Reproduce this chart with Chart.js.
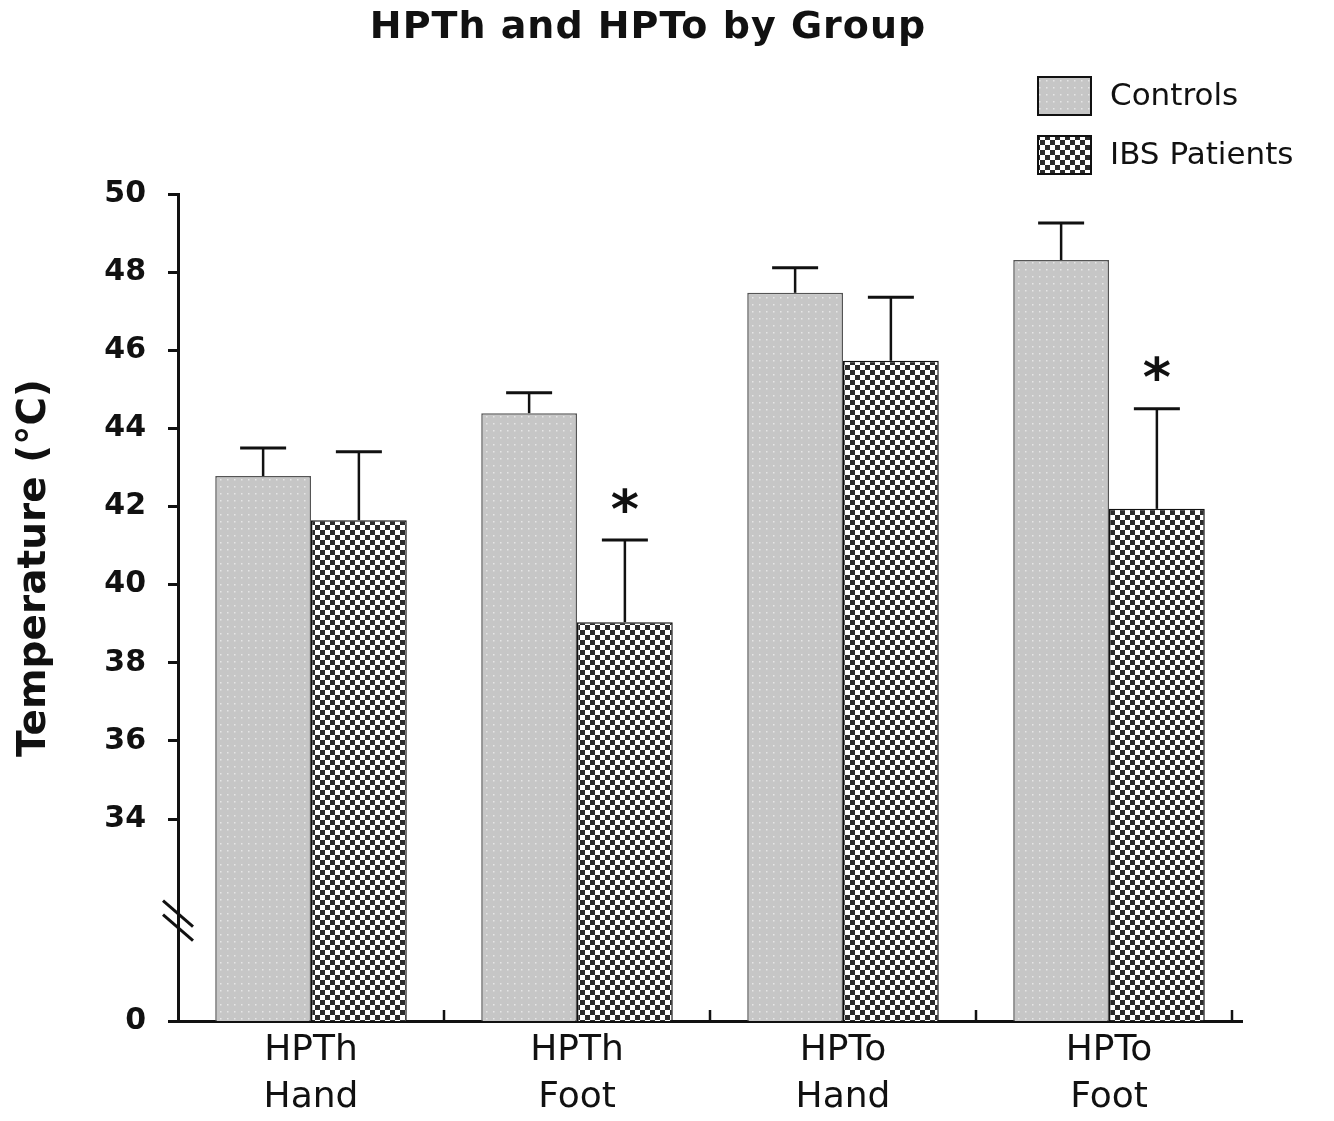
<!DOCTYPE html>
<html>
<head>
<meta charset="utf-8">
<script src="https://cdn.jsdelivr.net/npm/chart.js@4/dist/chart.umd.min.js"></script>
<style>
  html, body { margin: 0; padding: 0; background: #fff; }
  #wrap { width: 1334px; height: 1121px; }
</style>
</head>
<body>
<div id="wrap"><canvas id="chart"></canvas></div>
<script>
// datos
const categories = [['HPTh', 'Hand'], ['HPTh', 'Foot'], ['HPTo', 'Hand'], ['HPTo', 'Foot']];
const controlsMean = [42.78, 44.39, 47.47, 48.31];
const controlsErr = [0.72, 0.52, 0.64, 0.95];
const ibsMean = [41.65, 39.04, 45.73, 41.94];
const ibsErr = [1.75, 2.10, 1.63, 2.56];
const ibsSig = [false, true, false, true];
const yTickValues = [34, 36, 38, 40, 42, 44, 46, 48, 50];
const axisBottom = 28.83;   // eje cortado: este valor se rotula "0"
const breakAt = 31.4;       // donde va la marca "//"

const FONT = '"DejaVu Sans", sans-serif';

// patrones de relleno
function dotPattern() {
    const c = document.createElement('canvas');
    c.width = 7; c.height = 7;
    const g = c.getContext('2d');
    g.fillStyle = '#c6c6c6';
    g.fillRect(0, 0, 7, 7);
    g.fillStyle = '#e6e6e6';
    g.fillRect(3, 3, 1.5, 1.5);
    return g.createPattern(c, 'repeat');
}

function checkerPattern() {
    const c = document.createElement('canvas');
    c.width = 10; c.height = 10;
    const g = c.getContext('2d');
    g.fillStyle = '#ffffff';
    g.fillRect(0, 0, 10, 10);
    g.fillStyle = '#2b2b2b';
    g.fillRect(0, 0, 5, 5);
    g.fillRect(5, 5, 5, 5);
    return g.createPattern(c, 'repeat');
}

const controlsFill = dotPattern();
const ibsFill = checkerPattern();

// barras de error, asteriscos, corte del eje, marcas del eje x
const extrasPlugin = {
    id: 'extras',
    afterDatasetsDraw(chart) {
        const ctx = chart.ctx;
        const y = chart.scales.y;
        const errs = [controlsErr, ibsErr];
        ctx.save();
        chart.data.datasets.forEach((ds, i) => {
            const meta = chart.getDatasetMeta(i);
            meta.data.forEach((bar, j) => {
                const top = y.getPixelForValue(ds.data[j] + errs[i][j]);
                ctx.strokeStyle = '#111';
                ctx.lineWidth = 2.5;
                ctx.beginPath();
                ctx.moveTo(bar.x, bar.y);
                ctx.lineTo(bar.x, top);
                ctx.stroke();
                ctx.lineWidth = 3;
                ctx.beginPath();
                ctx.moveTo(bar.x - 23, top);
                ctx.lineTo(bar.x + 23, top);
                ctx.stroke();
                if (i === 1 && ibsSig[j]) {
                    ctx.fillStyle = '#111';
                    ctx.font = 'bold 54px ' + FONT;
                    ctx.textAlign = 'center';
                    ctx.textBaseline = 'alphabetic';
                    const m = ctx.measureText('*');
                    const cy = top - 40;
                    ctx.fillText('*', bar.x, cy + (m.actualBoundingBoxAscent - m.actualBoundingBoxDescent) / 2);
                }
            });
        });
        ctx.restore();
    },
    afterDraw(chart) {
        const ctx = chart.ctx;
        const area = chart.chartArea;
        const y = chart.scales.y;
        ctx.save();

        // marcas hacia dentro en el eje x
        ctx.strokeStyle = '#111';
        ctx.lineWidth = 2.5;
        const w = (area.right - area.left) / categories.length;
        for (let k = 1; k <= categories.length; k++) {
            const x = area.left + k * w - (k === categories.length ? 10 : 0);
            ctx.beginPath();
            ctx.moveTo(x, area.bottom);
            ctx.lineTo(x, area.bottom - 11);
            ctx.stroke();
        }

        // corte del eje y
        const by = y.getPixelForValue(breakAt);
        ctx.lineWidth = 3;
        [-7, 7].forEach(d => {
            ctx.beginPath();
            ctx.moveTo(area.left - 15, by + d - 13);
            ctx.lineTo(area.left + 15, by + d + 13);
            ctx.stroke();
        });

        // título
        ctx.fillStyle = '#111';
        ctx.font = 'bold 38px ' + FONT;
        ctx.textAlign = 'center';
        ctx.textBaseline = 'middle';
        ctx.letterSpacing = '1px';
        ctx.fillText('HPTh and HPTo by Group', 648, 28);
        ctx.letterSpacing = '0px';

        // título del eje y
        ctx.save();
        ctx.translate(35, 568);
        ctx.rotate(-Math.PI / 2);
        ctx.font = 'bold 39px ' + FONT;
        ctx.fillText('Temperature (\u00B0C)', 0, 0);
        ctx.restore();

        // leyenda
        const items = [['Controls', controlsFill, 77], ['IBS Patients', ibsFill, 136]];
        items.forEach(([label, fill, top]) => {
            ctx.fillStyle = fill;
            ctx.fillRect(1038, top, 53, 38);
            ctx.strokeStyle = '#111';
            ctx.lineWidth = 2;
            ctx.strokeRect(1038, top, 53, 38);
            ctx.fillStyle = '#111';
            ctx.font = '31px ' + FONT;
            ctx.textAlign = 'left';
            ctx.fillText(label, 1110, top + 20);
        });
        ctx.restore();
    }
};

new Chart(document.getElementById('chart'), {
    type: 'bar',
    data: {
        labels: categories,
        datasets: [
            {
                label: 'Controls',
                data: controlsMean,
                backgroundColor: controlsFill,
                borderColor: '#555',
                borderWidth: 1.5,
                categoryPercentage: 0.72,
                barPercentage: 1.0
            },
            {
                label: 'IBS Patients',
                data: ibsMean,
                backgroundColor: ibsFill,
                borderColor: '#111',
                borderWidth: 1.5,
                categoryPercentage: 0.72,
                barPercentage: 1.0
            }
        ]
    },
    options: {
        responsive: true,
        maintainAspectRatio: false,
        animation: false,
        layout: { padding: { top: 194, right: 92, bottom: 0, left: 0 } },
        plugins: {
            legend: { display: false },
            title: { display: false },
            tooltip: { enabled: false }
        },
        scales: {
            x: {
                grid: { display: true, drawOnChartArea: false, drawTicks: false },
                border: { display: true, color: '#111', width: 3 },
                ticks: {
                    color: '#111',
                    padding: 6,
                    font: { family: FONT, size: 36, lineHeight: 1.3 },
                    maxRotation: 0
                },
                afterFit(scale) { scale.height = 100; }
            },
            y: {
                min: axisBottom,
                max: 50,
                grid: { drawOnChartArea: false, drawTicks: true, tickLength: 10, color: '#111', lineWidth: 3 },
                border: { display: true, color: '#111', width: 3 },
                ticks: {
                    color: '#111',
                    padding: 22,
                    font: { family: FONT, size: 30, weight: 'bold' },
                    callback: v => (v === axisBottom ? '0' : String(v))
                },
                afterBuildTicks(scale) {
                    scale.ticks = [axisBottom, ...yTickValues].map(v => ({ value: v }));
                },
                afterFit(scale) { scale.width = 178; }
            }
        }
    },
    plugins: [extrasPlugin]
});
</script>
</body>
</html>
